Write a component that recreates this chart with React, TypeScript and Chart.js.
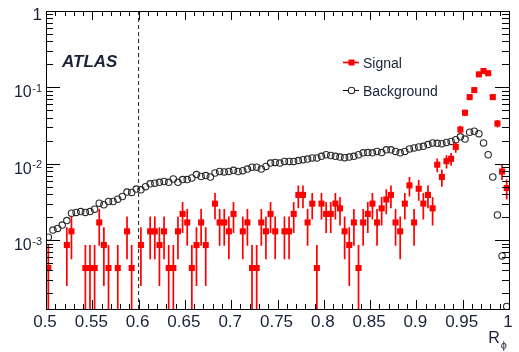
import React, { useEffect, useRef } from "react";
import { Chart, registerables } from "chart.js";

Chart.register(...registerables);

// ---------- DATA ----------
const binCenters = [
  0.5025, 0.5075, 0.5125, 0.5175, 0.5225, 0.5275, 0.5325, 0.5375, 0.5425, 0.5475,
  0.5525, 0.5575, 0.5625, 0.5675, 0.5725, 0.5775, 0.5825, 0.5875, 0.5925, 0.5975,
  0.6025, 0.6075, 0.6125, 0.6175, 0.6225, 0.6275, 0.6325, 0.6375, 0.6425, 0.6475,
  0.6525, 0.6575, 0.6625, 0.6675, 0.6725, 0.6775, 0.6825, 0.6875, 0.6925, 0.6975,
  0.7025, 0.7075, 0.7125, 0.7175, 0.7225, 0.7275, 0.7325, 0.7375, 0.7425, 0.7475,
  0.7525, 0.7575, 0.7625, 0.7675, 0.7725, 0.7775, 0.7825, 0.7875, 0.7925, 0.7975,
  0.8025, 0.8075, 0.8125, 0.8175, 0.8225, 0.8275, 0.8325, 0.8375, 0.8425, 0.8475,
  0.8525, 0.8575, 0.8625, 0.8675, 0.8725, 0.8775, 0.8825, 0.8875, 0.8925, 0.8975,
  0.9025, 0.9075, 0.9125, 0.9175, 0.9225, 0.9275, 0.9325, 0.9375, 0.9425, 0.9475,
  0.9525, 0.9575, 0.9625, 0.9675, 0.9725, 0.9775, 0.9825, 0.9875, 0.9925, 0.9975,
];

const signalValues: (number | null)[] = [
  0.00043, null, null, null, 0.00086, 0.0013, null, null, 0.00043, 0.00043,
  0.00043, 0.0017, 0.00086, 0.00043, null, 0.00043, null, 0.0013, 0.00043, null,
  0.00086, null, 0.0013, 0.0013, 0.00086, 0.0013, 0.00043, 0.00043, 0.0013, 0.0022,
  0.0017, 0.00043, 0.00086, 0.0017, 0.00086, null, 0.003, 0.0017, 0.0017, 0.0013,
  0.0022, null, 0.0013, 0.0017, 0.00043, 0.00043, 0.0017, 0.0013, 0.0022, 0.0013,
  null, 0.0013, 0.0013, 0.0022, 0.0039, 0.0039, 0.0017, 0.003, 0.00043, 0.003,
  0.0022, 0.0022, 0.003, 0.0026, 0.0013, 0.00086, 0.0017, 0.00043, 0.0017, 0.0022,
  0.003, 0.0017, 0.0026, 0.0034, 0.0039, 0.0017, 0.0013, 0.003, 0.0052, 0.0017,
  0.0047, 0.003, 0.0039, 0.0026, 0.0097, 0.0067, 0.0108, 0.0116, 0.0166, 0.028,
  0.0465, 0.0745, 0.092, 0.148, 0.164, 0.153, 0.0745, 0.0336, 0.0079, 0.0048,
];

const signalErrors: (number | null)[] = [
  0.00043, null, null, null, 0.00061, 0.00074, null, null, 0.00043, 0.00043,
  0.00043, 0.00086, 0.00061, 0.00043, null, 0.00043, null, 0.00074, 0.00043, null,
  0.00061, null, 0.00074, 0.00074, 0.00061, 0.00074, 0.00043, 0.00043, 0.00074, 0.00096,
  0.00086, 0.00043, 0.00061, 0.00086, 0.00061, null, 0.00114, 0.00086, 0.00086, 0.00074,
  0.00096, null, 0.00074, 0.00086, 0.00043, 0.00043, 0.00086, 0.00074, 0.00096, 0.00074,
  null, 0.00074, 0.00074, 0.00096, 0.0013, 0.0013, 0.00086, 0.00114, 0.00043, 0.00114,
  0.00096, 0.00096, 0.00114, 0.00105, 0.00074, 0.00061, 0.00086, 0.00043, 0.00086, 0.00096,
  0.00114, 0.00086, 0.00105, 0.00122, 0.0013, 0.00086, 0.00074, 0.00114, 0.00149, 0.00086,
  0.00143, 0.00114, 0.0013, 0.00105, 0.002, 0.0017, 0.00215, 0.0022, 0.0027, 0.0035,
  0.0045, 0.0057, 0.0063, 0.008, 0.0084, 0.0081, 0.0057, 0.0038, 0.0018, 0.0014,
];

const backgroundValues = [
  0.00109, 0.00135, 0.00142, 0.00157, 0.0018, 0.00225, 0.0023, 0.00236, 0.0023, 0.00236,
  0.00254, 0.00304, 0.0029, 0.0032, 0.0032, 0.00343, 0.00372, 0.00425, 0.0042, 0.00465,
  0.00455, 0.005, 0.00545, 0.00555, 0.0057, 0.00585, 0.0057, 0.0063, 0.0057, 0.0062,
  0.0062, 0.0065, 0.0072, 0.0068, 0.007, 0.0067, 0.00755, 0.0079, 0.0078, 0.0079,
  0.0082, 0.0079, 0.0081, 0.0085, 0.009, 0.009, 0.0085, 0.0092, 0.0102, 0.0104,
  0.0102, 0.0107, 0.0107, 0.0107, 0.011, 0.0113, 0.0115, 0.0119, 0.0119, 0.0125,
  0.0131, 0.0128, 0.0125, 0.0122, 0.012, 0.0122, 0.0125, 0.0131, 0.0139, 0.014,
  0.0139, 0.0145, 0.014, 0.0152, 0.0152, 0.0145, 0.0139, 0.0145, 0.0156, 0.0161,
  0.0166, 0.0169, 0.0178, 0.0187, 0.0185, 0.0183, 0.019, 0.0196, 0.0206, 0.0225,
  0.021, 0.0258, 0.0266, 0.0247, 0.0187, 0.0131, 0.0067, 0.00213, 0.00062, 0.000135,
];

const binHalfWidth = 0.0025;
const cutValue = 0.6;
const xAxisMin = 0.5;
const xAxisMax = 1;
const yAxisMin = 1.25e-4;
const yAxisMax = 1;

const xTickValues = [0.5, 0.55, 0.6, 0.65, 0.7, 0.75, 0.8, 0.85, 0.9, 0.95, 1];
const xTickLabels = ["0.5", "0.55", "0.6", "0.65", "0.7", "0.75", "0.8", "0.85", "0.9", "0.95", "1"];
const xMinorStep = 0.01;
const yTickValues = [1, 0.1, 0.01, 0.001];
const yTickBases = ["1", "10", "10", "10"];
const yTickExponents = ["", "-1", "-2", "-3"];

const legendLabels = ["Signal", "Background"];
const experimentLabel = "ATLAS";
const axisTitleMain = "R";
const axisTitleSub = "\u03D5";

// ---------- STYLE ----------
const FONT = '"Liberation Sans", Arial, Helvetica, sans-serif';
const TEXT_COLOR = "#1a2238";
const RED = "#ff0000";
const CIRCLE_COLOR = "#2a2a2a";

const rootPlugin = {
  id: "rootStyle",
  beforeDatasetDraw(chart: any, args: any) {
    const ds = chart.data.datasets[args.index];
    if (ds.label !== legendLabels[0]) return;
    const { ctx, chartArea } = chart;
    const xs = chart.scales.x;
    const ys = chart.scales.y;
    ctx.save();
    ctx.beginPath();
    ctx.rect(chartArea.left, chartArea.top, chartArea.right - chartArea.left, chartArea.bottom - chartArea.top);
    ctx.clip();
    ctx.strokeStyle = RED;
    ctx.lineWidth = 1.7;
    ctx.beginPath();
    for (let i = 0; i < binCenters.length; i++) {
      const v = signalValues[i];
      const e = signalErrors[i];
      if (v == null || e == null) continue;
      const c = binCenters[i];
      const px = xs.getPixelForValue(c);
      const py = ys.getPixelForValue(v);
      const hi = ys.getPixelForValue(v + e);
      const lo = v - e > yAxisMin * 0.5 ? ys.getPixelForValue(v - e) : chartArea.bottom + 5;
      ctx.moveTo(px, hi);
      ctx.lineTo(px, lo);
      ctx.moveTo(xs.getPixelForValue(c - binHalfWidth), py);
      ctx.lineTo(xs.getPixelForValue(c + binHalfWidth), py);
    }
    ctx.stroke();
    ctx.restore();
  },
  afterDraw(chart: any) {
    const { ctx, chartArea } = chart;
    const xs = chart.scales.x;
    const ys = chart.scales.y;
    const L = chartArea.left;
    const R = chartArea.right;
    const T = chartArea.top;
    const B = chartArea.bottom;
    ctx.save();
    // frame
    ctx.strokeStyle = "#000";
    ctx.lineWidth = 1;
    ctx.strokeRect(Math.round(L) + 0.5, Math.round(T) + 0.5, Math.round(R - L), Math.round(B - T));

    // ticks
    ctx.beginPath();
    // x minor & major
    const nMinor = Math.round((xAxisMax - xAxisMin) / xMinorStep);
    for (let i = 0; i <= nMinor; i++) {
      const v = xAxisMin + i * xMinorStep;
      const isMajor = xTickValues.some((t) => Math.abs(t - v) < 1e-6);
      const len = isMajor ? 9 : 5;
      const px = Math.round(xs.getPixelForValue(v)) + 0.5;
      ctx.moveTo(px, B);
      ctx.lineTo(px, B - len);
      ctx.moveTo(px, T);
      ctx.lineTo(px, T + len);
    }
    // y major
    for (const v of yTickValues) {
      const py = Math.round(ys.getPixelForValue(v)) + 0.5;
      ctx.moveTo(L, py);
      ctx.lineTo(L + 14, py);
      ctx.moveTo(R, py);
      ctx.lineTo(R - 14, py);
    }
    // y minor
    for (let d = 1e-4; d < 1; d *= 10) {
      for (let k = 2; k <= 9; k++) {
        const v = k * d;
        if (v < yAxisMin || v > yAxisMax) continue;
        const py = Math.round(ys.getPixelForValue(v)) + 0.5;
        ctx.moveTo(L, py);
        ctx.lineTo(L + 7, py);
        ctx.moveTo(R, py);
        ctx.lineTo(R - 7, py);
      }
    }
    ctx.stroke();

    // x labels
    ctx.fillStyle = TEXT_COLOR;
    ctx.font = `17px ${FONT}`;
    ctx.textAlign = "center";
    ctx.textBaseline = "alphabetic";
    xTickValues.forEach((v, i) => {
      ctx.fillText(xTickLabels[i], xs.getPixelForValue(v) - 1, 326.5);
    });

    // y labels
    const rightEdge = 42;
    yTickValues.forEach((v, i) => {
      const py = ys.getPixelForValue(v);
      const exp = yTickExponents[i];
      if (!exp) {
        ctx.font = `17px ${FONT}`;
        ctx.textAlign = "right";
        ctx.fillText(yTickBases[i], rightEdge, py + 8.5);
        return;
      }
      ctx.font = `11px ${FONT}`;
      const ew = ctx.measureText(exp).width;
      ctx.textAlign = "right";
      ctx.fillText(exp, rightEdge, py + 4.5);
      ctx.font = `16px ${FONT}`;
      ctx.fillText(yTickBases[i], rightEdge - ew - 0.5, py + 10);
    });

    // axis title
    ctx.textAlign = "right";
    ctx.font = `11px ${FONT}`;
    const sw = ctx.measureText(axisTitleSub).width;
    ctx.fillText(axisTitleSub, 507, 349);
    ctx.font = `16px ${FONT}`;
    ctx.fillText(axisTitleMain, 507 - sw - 1, 343);

    // ATLAS
    ctx.textAlign = "left";
    ctx.font = `italic bold 17px ${FONT}`;
    ctx.fillText(experimentLabel, 62, 66.5);

    // legend
    const lx0 = 343;
    const lx1 = 359;
    const mx = 351.5;
    const y1 = 62.5;
    const y2 = 90.5;
    ctx.strokeStyle = RED;
    ctx.lineWidth = 1.7;
    ctx.beginPath();
    ctx.moveTo(lx0, y1);
    ctx.lineTo(lx1, y1);
    ctx.stroke();
    ctx.fillStyle = RED;
    ctx.fillRect(mx - 3, y1 - 3, 6, 6);
    ctx.strokeStyle = "#000";
    ctx.lineWidth = 1;
    ctx.beginPath();
    ctx.moveTo(lx0, y2);
    ctx.lineTo(lx1, y2);
    ctx.stroke();
    ctx.beginPath();
    ctx.arc(mx, y2, 3.2, 0, Math.PI * 2);
    ctx.fillStyle = "#fff";
    ctx.fill();
    ctx.strokeStyle = CIRCLE_COLOR;
    ctx.lineWidth = 1.1;
    ctx.stroke();
    ctx.fillStyle = TEXT_COLOR;
    ctx.font = `14px ${FONT}`;
    ctx.textAlign = "left";
    ctx.fillText(legendLabels[0], 363, y1 + 5);
    ctx.fillText(legendLabels[1], 363, y2 + 5);

    ctx.restore();
  },
};

export default function App() {
  const canvasRef = useRef<HTMLCanvasElement | null>(null);

  useEffect(() => {
    if (!canvasRef.current) return;
    const signalPoints = binCenters
      .map((x, i) => (signalValues[i] == null ? null : { x, y: signalValues[i] as number }))
      .filter((p) => p !== null) as { x: number; y: number }[];
    const backgroundPoints = binCenters.map((x, i) => ({ x, y: backgroundValues[i] }));

    const chart = new Chart(canvasRef.current, {
      type: "scatter",
      data: {
        datasets: [
          {
            label: legendLabels[0],
            data: signalPoints,
            pointStyle: "rect",
            pointRadius: 4.3,
            pointHoverRadius: 4.3,
            backgroundColor: RED,
            borderColor: RED,
            borderWidth: 0,
            showLine: false,
            order: 0,
          } as any,
          {
            label: legendLabels[1],
            data: backgroundPoints,
            pointStyle: "circle",
            pointRadius: 3.2,
            pointHoverRadius: 3.2,
            backgroundColor: "rgba(255,255,255,0)",
            borderColor: CIRCLE_COLOR,
            borderWidth: 1.1,
            showLine: false,
            order: 1,
          } as any,
          {
            label: "cut",
            type: "line",
            data: [
              { x: cutValue, y: yAxisMin },
              { x: cutValue, y: yAxisMax },
            ],
            borderColor: "#222",
            borderWidth: 1,
            borderDash: [4, 3],
            pointRadius: 0,
            showLine: true,
            order: 2,
          } as any,
        ],
      },
      options: {
        responsive: false,
        animation: false,
        layout: { padding: { left: 46, right: 10, top: 11, bottom: 43 } },
        scales: {
          x: { type: "linear", min: xAxisMin, max: xAxisMax, display: false },
          y: { type: "logarithmic", min: yAxisMin, max: yAxisMax, display: false },
        },
        plugins: {
          legend: { display: false },
          tooltip: { enabled: false },
        },
      },
      plugins: [rootPlugin],
    });
    return () => chart.destroy();
  }, []);

  return (
    <div style={{ position: "absolute", left: 0, top: 0, width: 519, height: 352, background: "#fff" }}>
      <canvas ref={canvasRef} width={519} height={352} style={{ display: "block" }} />
    </div>
  );
}
